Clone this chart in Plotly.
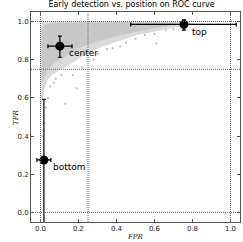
import plotly.graph_objects as go

# outer (sparser) cloud envelope (FPR, TPR)
outer_fpr = [0.0, 0.01, 0.1, 0.5, 0.78, 0.81, 0.73, 0.6, 0.5, 0.42, 0.33, 0.26, 0.2, 0.15, 0.1, 0.06, 0.035, 0.02, 0.01, 0.003, 0.0]
outer_tpr = [0.98, 0.995, 1.0, 1.0, 0.998, 0.988, 0.972, 0.95, 0.928, 0.9, 0.87, 0.84, 0.805, 0.775, 0.745, 0.72, 0.69, 0.64, 0.58, 0.52, 0.5]

# inner (dense) cloud envelope
inner_fpr = [0.005, 0.02, 0.1, 0.3, 0.5, 0.7, 0.72, 0.6, 0.45, 0.35, 0.25, 0.18, 0.12, 0.07, 0.04, 0.02, 0.008, 0.005]
inner_tpr = [0.95, 0.985, 0.995, 0.997, 0.996, 0.993, 0.984, 0.966, 0.935, 0.91, 0.88, 0.85, 0.81, 0.78, 0.75, 0.71, 0.68, 0.8]

# sparse outlying runs
sparse_fpr = [0.13, 0.19, 0.61, 0.3, 0.38, 0.45, 0.22, 0.5, 0.55, 0.66, 0.17, 0.28, 0.08, 0.11, 0.04, 0.02, 0.015, 0.01, 0.03, 0.05, 0.07, 0.35, 0.42, 0.6, 0.7]
sparse_tpr = [0.57, 0.65, 0.886, 0.83, 0.86, 0.89, 0.76, 0.91, 0.93, 0.955, 0.72, 0.8, 0.7, 0.72, 0.6, 0.47, 0.43, 0.4, 0.55, 0.66, 0.68, 0.855, 0.87, 0.935, 0.96]

names = ["top", "center", "bottom"]
pos_fpr = [0.755, 0.102, 0.018]
pos_tpr = [0.985, 0.871, 0.275]
fpr_err_minus = [0.28, 0.063, 0.037]
fpr_err_plus = [0.275, 0.064, 0.037]
tpr_err_minus = [0.03, 0.058, 0.34]
tpr_err_plus = [0.024, 0.053, 0.318]

label_x = [0.785, 0.138, 0.055]
label_y = [0.945, 0.835, 0.24]

vlines = [0.0, 0.25, 1.0]
hlines = [0.0, 0.75, 1.0]

fig = go.Figure()
fig.add_trace(go.Scatter(x=outer_fpr, y=outer_tpr, mode="lines", fill="toself",
                         fillcolor="#dadada", line=dict(width=0), hoverinfo="skip"))
fig.add_trace(go.Scatter(x=inner_fpr, y=inner_tpr, mode="lines", fill="toself",
                         fillcolor="#c8c8c8", line=dict(width=0), hoverinfo="skip"))
fig.add_trace(go.Scatter(x=sparse_fpr, y=sparse_tpr, mode="markers",
                         marker=dict(size=2, color="#c4c4c4", symbol="square", line=dict(width=0)),
                         hoverinfo="skip"))
fig.add_trace(go.Scatter(
    x=pos_fpr, y=pos_tpr, mode="markers",
    marker=dict(size=9, color="black"),
    error_x=dict(type="data", symmetric=False, array=fpr_err_plus, arrayminus=fpr_err_minus,
                 color="black", thickness=1.2, width=2),
    error_y=dict(type="data", symmetric=False, array=tpr_err_plus, arrayminus=tpr_err_minus,
                 color="black", thickness=1.2, width=2),
))

for v in vlines:
    fig.add_shape(type="line", xref="x", yref="paper", x0=v, x1=v, y0=0, y1=1,
                  line=dict(color="#666", width=1, dash="1px,1px"))
for h in hlines:
    fig.add_shape(type="line", xref="paper", yref="y", x0=0, x1=1, y0=h, y1=h,
                  line=dict(color="#666", width=1, dash="1px,1px"))

for n, lx, ly in zip(names, label_x, label_y):
    fig.add_annotation(x=lx, y=ly, text=n, showarrow=False, xanchor="left", yanchor="middle",
                       font=dict(family="DejaVu Sans", size=9, color="black"))

fig.add_annotation(xref="paper", yref="paper", x=0.5, y=-0.045, text="<i>FPR</i>", showarrow=False,
                   xanchor="center", yanchor="top", font=dict(family="DejaVu Serif", size=7, color="#222"))
fig.add_annotation(xref="paper", yref="paper", x=-0.072, y=0.5, text="<i>TPR</i>", showarrow=False,
                   textangle=-90, xanchor="center", yanchor="middle",
                   font=dict(family="DejaVu Serif", size=7, color="#222"))

axis_common = dict(showgrid=False, zeroline=False, ticks="inside", ticklen=3, tickcolor="#555",
                   showline=True, linecolor="#555", linewidth=1, mirror="ticks",
                   tickfont=dict(family="DejaVu Sans", size=7, color="#222"),
                   tickformat=".1f", dtick=0.2)
fig.update_xaxes(range=[-0.05, 1.05], **axis_common)
fig.update_yaxes(range=[-0.05, 1.05], **axis_common)

fig.update_layout(
    width=243, height=242, showlegend=False,
    margin=dict(l=31, r=3, t=12, b=20),
    plot_bgcolor="white", paper_bgcolor="white",
    title=dict(text="Early detection vs. position on ROC curve", x=131.5 / 243, xanchor="center",
               y=0.993, yanchor="top", font=dict(family="DejaVu Sans", size=8, color="black")),
)
fig.write_html("out.html", config={"displayModeBar": False},
               post_script="document.body.style.margin='0';")
